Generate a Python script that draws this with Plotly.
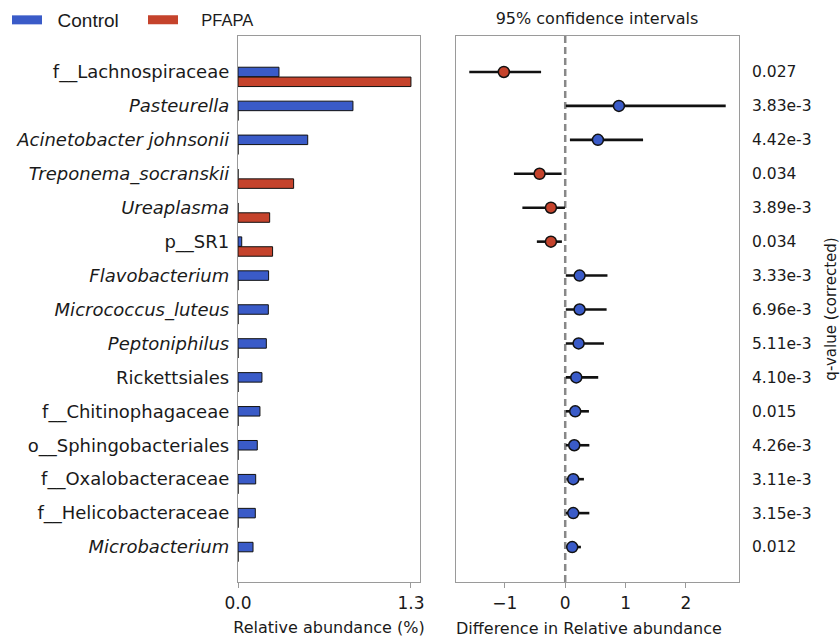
import plotly.graph_objects as go

# ---------------- data ----------------
features = ["f__Lachnospiraceae", "Pasteurella", "Acinetobacter johnsonii", "Treponema_socranskii",
            "Ureaplasma", "p__SR1", "Flavobacterium", "Micrococcus_luteus", "Peptoniphilus",
            "Rickettsiales", "f__Chitinophagaceae", "o__Sphingobacteriales", "f__Oxalobacteraceae",
            "f__Helicobacteraceae", "Microbacterium"]
italic = [False, True, True, True, True, False, True, True, True, False, False, False, False, False, True]

control_abund = [0.308, 0.864, 0.524, 0.0, 0.0, 0.028, 0.23, 0.228, 0.213, 0.18, 0.165, 0.145, 0.133, 0.13, 0.113]
pfapa_abund = [1.30, 0.0, 0.0, 0.418, 0.238, 0.26, 0.0, 0.0, 0.0, 0.0, 0.0, 0.0, 0.0, 0.0, 0.0]

diff_mean = [-1.017, 0.89, 0.542, -0.425, -0.237, -0.237, 0.238, 0.238, 0.222, 0.183, 0.166, 0.15, 0.133, 0.133, 0.116]
ci_low = [-1.59, 0.01, 0.078, -0.85, -0.71, -0.47, 0.01, 0.01, 0.01, 0.01, 0.01, 0.01, 0.02, 0.01, 0.04]
ci_high = [-0.40, 2.66, 1.29, -0.06, -0.005, -0.055, 0.70, 0.686, 0.642, 0.547, 0.393, 0.40, 0.31, 0.40, 0.26]
enriched = ["PFAPA", "Control", "Control", "PFAPA", "PFAPA", "PFAPA", "Control", "Control", "Control",
            "Control", "Control", "Control", "Control", "Control", "Control"]

q_values = ["0.027", "3.83e-3", "4.42e-3", "0.034", "3.89e-3", "0.034", "3.33e-3", "6.96e-3", "5.11e-3",
            "4.10e-3", "0.015", "4.26e-3", "3.11e-3", "3.15e-3", "0.012"]

abund_ticks = [0.0, 1.3]
abund_ticktext = ["0.0", "1.3"]
diff_ticks = [-1, 0, 1, 2]
diff_ticktext = ["\u22121", "0", "1", "2"]

# ---------------- style ----------------
BLUE = "#3a5bc8"
RED = "#c5432c"
SPINE = "#9a9a9a"
FONT = "DejaVu Sans"
TXT = "#1a1a1a"
BAR_W = 0.28
BAR_OFF = 0.29

rows = list(range(len(features)))
ticktext = [f"<i>{n}</i>" if it else n for n, it in zip(features, italic)]
y_range = [len(features) + 0.03, -1.06]

fig = go.Figure()

# bars
fig.add_trace(go.Bar(
    x=control_abund, y=rows, orientation="h", width=BAR_W,
    marker=dict(color=BLUE, line=dict(color="#111", width=1)),
    xaxis="x", yaxis="y", showlegend=False, name="Control"))
fig.add_trace(go.Bar(
    x=pfapa_abund, y=[r + BAR_OFF for r in rows], orientation="h", width=BAR_W,
    marker=dict(color=RED, line=dict(color="#111", width=1)),
    xaxis="x", yaxis="y", showlegend=False, name="PFAPA"))

# legend proxies
fig.add_trace(go.Scatter(x=[None], y=[None], mode="lines", line=dict(color=BLUE, width=9),
                         name="\u00a0\u00a0Control", legend="legend", xaxis="x", yaxis="y"))
fig.add_trace(go.Scatter(x=[None], y=[None], mode="lines", line=dict(color=RED, width=9),
                         name="\u00a0\u00a0\u00a0\u00a0PFAPA", legend="legend2", xaxis="x", yaxis="y"))

# confidence intervals
for grp, col in (("PFAPA", RED), ("Control", BLUE)):
    idx = [i for i in rows if enriched[i] == grp]
    fig.add_trace(go.Scatter(
        x=[diff_mean[i] for i in idx], y=idx, mode="markers",
        marker=dict(color=col, size=11, line=dict(color="#111", width=1.5)),
        error_x=dict(type="data", symmetric=False,
                     array=[ci_high[i] - diff_mean[i] for i in idx],
                     arrayminus=[diff_mean[i] - ci_low[i] for i in idx],
                     color="#111", thickness=2.6, width=0),
        xaxis="x2", yaxis="y2", showlegend=False))

# invisible trace carrying q-values axis
fig.add_trace(go.Scatter(x=[0 for _ in rows], y=rows, mode="markers", marker=dict(opacity=0),
                         xaxis="x2", yaxis="y3", showlegend=False, hoverinfo="skip"))

fig.add_shape(type="line", xref="x2", yref="y2 domain", x0=0, x1=0, y0=0, y1=1,
              line=dict(color="#888888", width=2.5, dash="7px,4px"), layer="below")

# x-axis title of the right panel (slightly left of the panel centre, as in the original)
fig.add_annotation(text="Difference in Relative abundance", xref="paper", yref="paper",
                   x=589 / 840, y=1 - 628 / 637, xanchor="center", yanchor="middle", showarrow=False,
                   font=dict(family=FONT, size=16, color=TXT))

axis_common = dict(showgrid=False, zeroline=False, showline=True, linecolor=SPINE, linewidth=1.3,
                   mirror=True, ticks="outside", ticklen=5, tickcolor=SPINE, tickwidth=1.3,
                   automargin=False, tickfont=dict(family=FONT, size=17, color=TXT))

fig.update_layout(
    template="none",
    width=840, height=637, autosize=False,
    margin=dict(l=0, r=0, t=0, b=0, pad=0),
    paper_bgcolor="white", plot_bgcolor="white",
    barmode="overlay",
    font=dict(family=FONT, color=TXT),
    title=dict(text="95% confidence intervals", x=597 / 840, xanchor="center",
               y=1 - 18 / 637, yanchor="middle", font=dict(family=FONT, size=16, color=TXT)),
    xaxis=dict(domain=[238 / 840, 420 / 840], range=[0, 1.368], anchor="y",
               tickvals=abund_ticks, ticktext=abund_ticktext,
               title=dict(text="Relative abundance (%)", font=dict(family=FONT, size=16, color=TXT), standoff=11),
               **axis_common),
    xaxis2=dict(domain=[456 / 840, 739 / 840], range=[-1.81, 2.88], anchor="y2",
                tickvals=diff_ticks, ticktext=diff_ticktext,
                **axis_common),
    yaxis=dict(domain=[1 - 582 / 637, 1 - 36 / 637], range=y_range, anchor="x",
               tickvals=rows, ticktext=ticktext, showgrid=False, zeroline=False,
               showline=True, linecolor=SPINE, linewidth=1.3, mirror=True, ticks="",
               automargin=False, ticklabelstandoff=4, tickfont=dict(family=FONT, size=18, color=TXT)),
    yaxis2=dict(domain=[1 - 582 / 637, 1 - 36 / 637], range=y_range, anchor="x2",
                showticklabels=False, showgrid=False, zeroline=False, automargin=False,
                showline=True, linecolor=SPINE, linewidth=1.3, mirror=True, ticks=""),
    yaxis3=dict(overlaying="y2", side="right", anchor="x2", range=y_range,
                tickvals=rows, ticktext=q_values, showgrid=False, zeroline=False, showline=False,
                ticks="", ticklabelstandoff=12, automargin=False,
                tickfont=dict(family=FONT, size=15.5, color=TXT),
                title=dict(text="q-value (corrected)", font=dict(family=FONT, size=15, color=TXT), standoff=16)),
    legend=dict(x=7 / 840, y=1 - 20 / 637, xanchor="left", yanchor="middle", bgcolor="rgba(0,0,0,0)",
                font=dict(family="Liberation Sans, Arial", size=19, color=TXT), borderwidth=0),
    legend2=dict(x=143 / 840, y=1 - 20 / 637, xanchor="left", yanchor="middle", bgcolor="rgba(0,0,0,0)",
                 font=dict(family="Liberation Sans, Arial", size=16.5, color=TXT), borderwidth=0),
)

fig.write_html("out.html", config={"displayModeBar": False},
               post_script="document.body.style.margin='0';document.body.style.overflow='hidden';")
